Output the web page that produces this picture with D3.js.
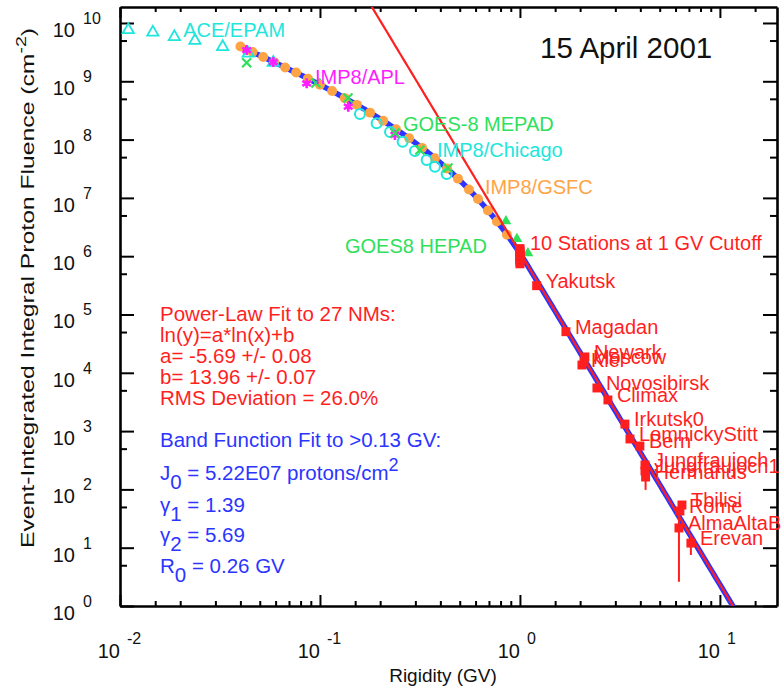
<!DOCTYPE html>
<html>
<head>
<meta charset="utf-8">
<script src="https://cdn.jsdelivr.net/npm/d3@7"></script>
<style>
  body { margin: 0; background: #fff; }
  svg { display: block; font-family: "Liberation Sans", Arial, Helvetica, sans-serif; }
</style>
</head>
<body>
<svg id="chart" width="783" height="689"></svg>
<script>
// ---- Spacecraft / balloon data: rigidity (GV) and integral fluence (cm^-2) ----
const aceR = [0.0110, 0.0146, 0.0187, 0.0237, 0.0326, 0.0438, 0.0584];
const aceF = [7.6e9, 6.9e9, 5.8e9, 5.0e9, 3.9e9, 3.0e9, 2.1e9];

const aplR = [0.043, 0.0584, 0.0858, 0.1385, 0.237];
const aplF = [3.44e9, 2.14e9, 9.24e8, 3.67e8, 1.2e8];

const mepadR = [0.043, 0.0955, 0.138, 0.237, 0.316, 0.4365];
const mepadF = [2.08e9, 9.35e8, 5.17e8, 1.3e8, 6.63e7, 3.26e7];

const chicagoR = [0.1585, 0.192, 0.224, 0.259, 0.2985, 0.3416, 0.3758, 0.430];
const chicagoF = [2.75e8, 1.9e8, 1.35e8, 9.2e7, 6.37e7, 4.47e7, 3.43e7, 2.57e7];

const gsfcR = [0.040, 0.046, 0.052, 0.059, 0.067, 0.076, 0.087, 0.100, 0.115, 0.133,
               0.153, 0.178, 0.207, 0.240, 0.279, 0.324, 0.376, 0.432, 0.490, 0.556,
               0.617, 0.692, 0.767, 0.861];
const gsfcF = [3.95e9, 3.19e9, 2.61e9, 2.13e9, 1.73e9, 1.41e9, 1.11e9, 8.73e8, 6.80e8, 5.14e8,
               3.94e8, 2.90e8, 2.11e8, 1.51e8, 1.06e8, 7.21e7, 4.80e7, 3.19e7, 2.14e7, 1.39e7,
               9.54e6, 6.09e6, 3.94e6, 2.34e6];

const hepadR = [0.851, 0.966, 1.096];
const hepadF = [4.0e6, 1.97e6, 1.13e6];

// ---- Neutron monitors ----
const cutoffGroupR = [1.0, 1.0, 1.0, 1.0, 1.0, 1.0, 1.0, 1.0, 1.0, 1.0];
const cutoffGroupF = [1.35e6, 1.28e6, 1.2e6, 1.12e6, 1.05e6, 0.98e6, 0.92e6, 0.86e6, 0.8e6, 0.74e6];
const cutoffGroupLo = [1.2e6, 1.15e6, 1.08e6, 1.0e6, 0.94e6, 0.88e6, 0.82e6, 0.77e6, 0.71e6, 0.66e6];
const cutoffGroupHi = [1.5e6, 1.42e6, 1.33e6, 1.24e6, 1.16e6, 1.08e6, 1.02e6, 0.95e6, 0.89e6, 0.82e6];

const stationNames = ["Yakutsk", "Magadan", "Newark", "Kiel", "Moscow", "Novosibirsk", "Climax",
                      "Irkutsk0", "LomnickyStitt", "Bern", "Jungfraujoch", "Jungfraujoch1",
                      "Hermanus", "Tbilisi", "Rome", "AlmaAltaB", "Erevan"];
const stationR = [1.212, 1.698, 2.113, 2.042, 2.09, 2.427, 2.754, 3.35, 3.55, 3.98, 4.22, 4.22,
                  4.25, 6.46, 6.31, 6.24, 7.16];
const stationF = [3.12e5, 5.07e4, 1.87e4, 1.36e4, 1.53e4, 5.49e3, 3.42e3, 1.32e3, 732, 555, 262, 207,
                  163, 54, 42.6, 21.8, 12.0];
const stationLo = [2.9e5, 4.8e4, 1.75e4, 1.27e4, 1.43e4, 5.1e3, 3.2e3, 1.22e3, 680, 515, 230, 180,
                   98, 47, 37, 2.6, 7.5];
const stationHi = [3.35e5, 5.35e4, 2.0e4, 1.45e4, 1.63e4, 5.9e3, 3.65e3, 1.42e3, 790, 600, 300, 235,
                   190, 62, 49, 58, 16.5];

// ---- Fit parameters ----
const powerLawA = -5.69, powerLawB = 13.96;
const bandJ0 = 5.22e7, bandGamma1 = 1.39, bandGamma2 = 5.69, bandR0 = 0.26;

// ---- Axis ticks ----
const xMajorTicks = [0.01, 0.1, 1, 10];
const xMinorMultipliers = [1.5, 2, 3, 4, 5, 6, 7, 8, 9];
const yMajorExponents = [0, 1, 2, 3, 4, 5, 6, 7, 8, 9, 10];

const RED = "#ff1f1f", BLUE = "#2b35ff", GREEN = "#2fe05a", CYAN = "#1ee6dc",
      MAGENTA = "#ff1dff", ORANGE = "#ffa445";

const svg = d3.select("#chart");
const x = d3.scaleLog().domain([0.01, 19.3]).range([120, 777]);
const y = d3.scaleLog().domain([1, 1.88e10]).range([606, 7]);
const [x0, x1] = x.range(), [y0, y1] = y.range();

svg.append("defs").append("clipPath").attr("id", "plot")
  .append("rect").attr("x", x0).attr("y", y1).attr("width", x1 - x0).attr("height", y0 - y1);

// ---- Axes (ticks point inward on all four sides) ----
const xMinor = [];
xMajorTicks.forEach(d => xMinorMultipliers.forEach(m => { const v = d * m; if (v < x.domain()[1]) xMinor.push(v); }));
const yMajor = yMajorExponents.map(e => Math.pow(10, e));
const yMinor = yMajorExponents.map(e => 5 * Math.pow(10, e)).filter(v => v < y.domain()[1]);

function styleAxis(g) {
  g.select(".domain").attr("stroke", "#000").attr("stroke-width", 2.6);
  g.selectAll(".tick line").attr("stroke", "#000").attr("stroke-width", 2);
  g.selectAll(".tick text").remove();
}
const axes = svg.append("g");
[[d3.axisBottom, y0, 11, 5], [d3.axisTop, y1, 11, 5]].forEach(([fn, py, big, small]) => {
  axes.append("g").attr("transform", `translate(0,${py})`)
    .call(fn(x).tickValues(xMajorTicks).tickSize(-big).tickSizeOuter(0)).call(styleAxis);
  axes.append("g").attr("transform", `translate(0,${py})`)
    .call(fn(x).tickValues(xMinor).tickSize(-small).tickSizeOuter(0)).call(styleAxis)
    .select(".domain").remove();
});
[[d3.axisLeft, x0, 14, 7], [d3.axisRight, x1, 14, 7]].forEach(([fn, px, big, small]) => {
  axes.append("g").attr("transform", `translate(${px},0)`)
    .call(fn(y).tickValues(yMajor).tickSize(-big).tickSizeOuter(0)).call(styleAxis);
  axes.append("g").attr("transform", `translate(${px},0)`)
    .call(fn(y).tickValues(yMinor).tickSize(-small).tickSizeOuter(0)).call(styleAxis)
    .select(".domain").remove();
});

// Tick labels written as 10 with a raised exponent
const tickLab = svg.append("g").attr("fill", "#111");
xMajorTicks.forEach(v => {
  const px = x(v);
  tickLab.append("text").attr("x", px).attr("y", 658).attr("text-anchor", "end")
    .attr("font-size", 20).text("10");
  tickLab.append("text").attr("x", px + 7).attr("y", 644).attr("font-size", 16)
    .text(String(Math.round(Math.log10(v))));
});
yMajorExponents.forEach(e => {
  const py = y(Math.pow(10, e));
  tickLab.append("text").attr("x", 75).attr("y", py + 14).attr("text-anchor", "end")
    .attr("font-size", 20).text("10");
  tickLab.append("text").attr("x", 83).attr("y", py + 1).attr("font-size", 16).text(String(e));
});

// Axis titles
svg.append("text").attr("x", 443).attr("y", 682).attr("text-anchor", "middle")
  .attr("font-size", 19).attr("fill", "#111").text("Rigidity (GV)");
const yt = svg.append("text").attr("transform", "translate(34,288) rotate(-90)")
  .attr("text-anchor", "middle").attr("font-size", 19).attr("fill", "#111")
  .attr("textLength", 520).attr("lengthAdjust", "spacingAndGlyphs");
yt.append("tspan").text("Event-Integrated Integral Proton Fluence (cm");
yt.append("tspan").attr("dy", -8).attr("font-size", 15).text("-2");
yt.append("tspan").attr("dy", 8).text(")");

svg.append("text").attr("x", 540).attr("y", 58).attr("font-size", 29.5).attr("fill", "#111")
  .text("15 April 2001");

// ---- Fit curves ----
const plot = svg.append("g").attr("clip-path", "url(#plot)");
const line = d3.line().x(d => x(d[0])).y(d => y(d[1]));

const bandBreak = (bandGamma2 - bandGamma1) * bandR0;
function band(R) {
  if (R < bandBreak) return bandJ0 * Math.pow(R, -bandGamma1) * Math.exp(-R / bandR0);
  return bandJ0 * Math.pow(bandBreak, bandGamma2 - bandGamma1) * Math.exp(bandGamma1 - bandGamma2)
         * Math.pow(R, -bandGamma2);
}
const bandPts = d3.range(Math.log10(0.04), Math.log10(14), 0.01).map(l => [Math.pow(10, l), band(Math.pow(10, l))]);
const powerPts = d3.range(Math.log10(0.15), Math.log10(14), 0.01)
  .map(l => [Math.pow(10, l), Math.exp(powerLawA * Math.log(Math.pow(10, l)) + powerLawB)]);

plot.append("path").datum(bandPts).attr("d", line).attr("fill", "none")
  .attr("stroke", BLUE).attr("stroke-width", 5.5);

// ---- Data markers ----
const sym = (type, size) => d3.symbol().type(type).size(size)();
function markers(R, F, path, attrs) {
  const g = plot.append("g");
  R.forEach((r, i) => {
    const p = g.append("path").attr("d", path).attr("transform", `translate(${x(r)},${y(F[i])})`);
    Object.entries(attrs).forEach(([k, v]) => p.attr(k, v));
  });
}
markers(gsfcR, gsfcF, sym(d3.symbolCircle, 78), { fill: ORANGE });
markers(chicagoR, chicagoF, sym(d3.symbolCircle, 78), { fill: "none", stroke: CYAN, "stroke-width": 2 });
markers(aceR, aceF, sym(d3.symbolTriangle, 55), { fill: "none", stroke: CYAN, "stroke-width": 1.8 });
markers(aplR, aplF, sym(d3.symbolAsterisk, 70), { fill: "none", stroke: MAGENTA, "stroke-width": 2.6 });
markers(mepadR, mepadF, sym(d3.symbolTimes, 55), { fill: "none", stroke: GREEN, "stroke-width": 2.2 });
markers(hepadR, hepadF, sym(d3.symbolTriangle, 50), { fill: GREEN });

// Neutron monitor points with error bars
function stations(R, F, lo, hi) {
  const g = plot.append("g");
  R.forEach((r, i) => {
    g.append("line").attr("x1", x(r)).attr("x2", x(r)).attr("y1", y(lo[i])).attr("y2", y(hi[i]))
      .attr("stroke", RED).attr("stroke-width", 2);
  });
  R.forEach((r, i) => {
    g.append("path").attr("d", sym(d3.symbolSquare, 80))
      .attr("transform", `translate(${x(r)},${y(F[i])})`).attr("fill", RED);
  });
}
stations(cutoffGroupR, cutoffGroupF, cutoffGroupLo, cutoffGroupHi);
stations(stationR, stationF, stationLo, stationHi);

plot.append("path").datum(powerPts).attr("d", line).attr("fill", "none")
  .attr("stroke", RED).attr("stroke-width", 2.2);

// ---- Labels ----
const labels = svg.append("g").attr("font-size", 20);
stationNames.forEach((n, i) => {
  labels.append("text").attr("x", x(stationR[i]) + 9).attr("y", y(stationF[i]) + 2)
    .attr("fill", RED).text(n);
});
labels.append("text").attr("x", x(cutoffGroupR[0]) + 10).attr("y", y(cutoffGroupF[0]) + 1)
  .attr("fill", RED).text("10 Stations at 1 GV Cutoff");

const instrumentLabels = [
  { text: "ACE/EPAM", color: CYAN, R: 0.0207, F: 5.75e9 },
  { text: "IMP8/APL", color: MAGENTA, R: 0.0944, F: 9.0e8 },
  { text: "GOES-8 MEPAD", color: GREEN, R: 0.26, F: 1.4e8 },
  { text: "IMP8/Chicago", color: CYAN, R: 0.385, F: 5.0e7 },
  { text: "IMP8/GSFC", color: ORANGE, R: 0.668, F: 1.17e7 },
  { text: "GOES8 HEPAD", color: GREEN, R: 0.1334, F: 1.14e6 }
];
instrumentLabels.forEach(l => {
  labels.append("text").attr("x", x(l.R)).attr("y", y(l.F)).attr("fill", l.color).text(l.text);
});

// Fit summaries
const fitText = svg.append("g").attr("font-size", 20.5);
["Power-Law Fit to 27 NMs:", "ln(y)=a*ln(x)+b",
 `a= ${powerLawA.toFixed(2)} +/- 0.08`, `b= ${powerLawB.toFixed(2)} +/- 0.07`, "RMS Deviation = 26.0%"]
  .forEach((t, i) => fitText.append("text").attr("x", 160).attr("y", 321 + i * 21)
    .attr("fill", RED).text(t));

const blueLines = fitText.append("g").attr("fill", BLUE);
blueLines.append("text").attr("x", 160).attr("y", 447).text("Band Function Fit to >0.13 GV:");
function subLine(yb, main, sub, rest, sup) {
  const t = blueLines.append("text").attr("x", 160).attr("y", yb);
  t.append("tspan").text(main);
  t.append("tspan").attr("dy", 9).text(sub);
  t.append("tspan").attr("dy", -9).text(rest);
  if (sup) t.append("tspan").attr("dy", -9).attr("font-size", 18).text(sup);
}
subLine(480, "J", "0", ` = ${d3.format(".2e")(bandJ0).replace("e+", "E0").toUpperCase()} protons/cm`, "2");
subLine(512, "\u03b3", "1", ` = ${bandGamma1.toFixed(2)}`);
subLine(542, "\u03b3", "2", ` = ${bandGamma2.toFixed(2)}`);
subLine(573, "R", "0", ` = ${bandR0.toFixed(2)} GV`);
</script>
</body>
</html>
